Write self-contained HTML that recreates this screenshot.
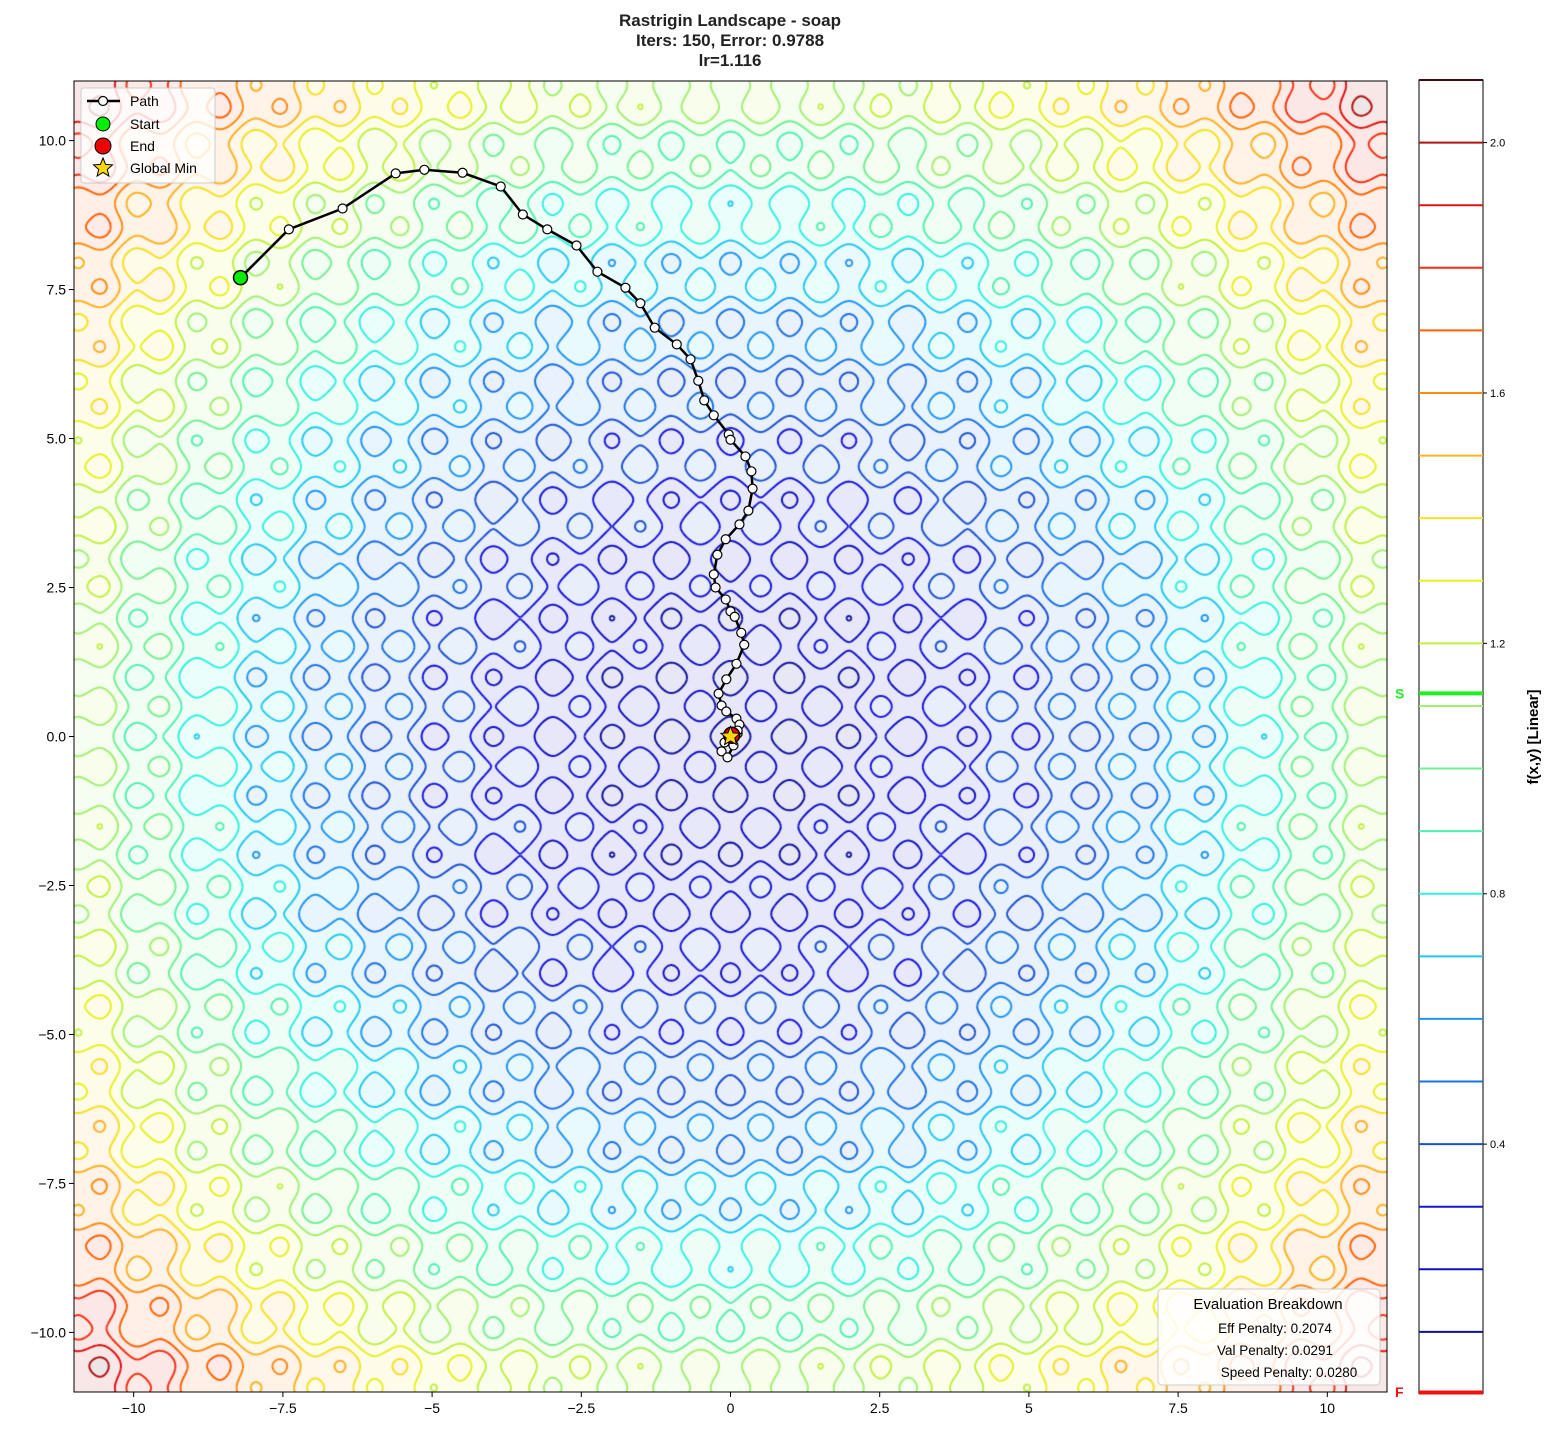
<!DOCTYPE html>
<html><head><meta charset="utf-8">
<style>
body{margin:0;background:#fff;font-family:"Liberation Sans","DejaVu Sans",sans-serif;}
#wrap{position:relative;width:1555px;height:1435px;overflow:hidden;}
canvas{position:absolute;left:74px;top:81px;}
svg{position:absolute;left:0;top:0;}
</style></head>
<body>
<div id="wrap">
<canvas id="cv" width="1313" height="1311"></canvas>
<svg id="sv" width="1555" height="1435"></svg>
</div>
<script>
// ---- data ----
const pathX=[-8.21,-7.40,-6.50,-5.61,-5.13,-4.49,-3.85,-3.48,-3.07,-2.58,-2.23,-1.76,-1.51,-1.27,-0.90,-0.67,-0.54,-0.44,-0.28,-0.03,0.00,0.25,0.35,0.37,0.30,0.15,-0.08,-0.22,-0.28,-0.25,-0.08,0.00,0.07,0.18,0.23,0.10,-0.07,-0.20,-0.15,-0.07,0.10,0.15,0.12,-0.10,-0.15,-0.05,0.05,0.12,0.02];
const pathY=[7.70,8.51,8.86,9.45,9.51,9.46,9.23,8.76,8.51,8.24,7.80,7.53,7.27,6.86,6.58,6.33,5.97,5.64,5.39,5.07,4.98,4.70,4.45,4.16,3.79,3.56,3.31,3.05,2.72,2.50,2.30,2.10,2.01,1.74,1.54,1.22,0.96,0.72,0.52,0.42,0.30,0.20,0.05,-0.10,-0.25,-0.35,-0.15,0.10,0.02];
const levels=[0.1,0.2,0.3,0.4,0.5,0.6,0.7,0.8,0.9,1.0,1.1,1.2,1.3,1.4,1.5,1.6,1.7,1.8,1.9,2.0,2.1];
const levelColors=["#10109a","#1010c0","#1515d8","#1a50d0","#1a70e0","#1e95f0","#20c8f0","#30f0e0","#50f0b0","#70f090","#a0f070","#c0f040","#e8f020","#f8e020","#ffb020","#ff8a10","#ff6000","#f03010","#e01010","#b01010","#401010"];
const xTicks=[-10,-7.5,-5,-2.5,0,2.5,5,7.5,10];
const yTicks=[-10,-7.5,-5,-2.5,0,2.5,5,7.5,10];
const cbTicks=[0.4,0.8,1.2,1.6,2.0];
const startVal=1.12, endVal=0.0;
// ---- scales ----
const X0=74,Y0=81,W=1313,H=1311;
const sx=x=>X0+(x+11)/22*W, sy=y=>Y0+(11-y)/22*H;
function v(x,y){const r2=x*x+y*y,r=Math.sqrt(r2);
const osc=(20-10*Math.cos(2*Math.PI*x)-10*Math.cos(2*Math.PI*y))/40;
return 0.007*r2+0.015*r+0.25*osc;}
function hex(c){return [parseInt(c.substr(1,2),16),parseInt(c.substr(3,2),16),parseInt(c.substr(5,2),16)];}
const cv=document.getElementById('cv'),ctx=cv.getContext('2d');
const img=ctx.createImageData(W,H);const rgb=levelColors.map(hex);
for(let j=0;j<H;j++){const y=11-(j+0.5)/H*22;for(let i=0;i<W;i++){const x=-11+(i+0.5)/W*22;
let k=Math.min(Math.floor(v(x,y)/0.1),20);const c=rgb[k];const a=0.1;const p=(j*W+i)*4;
img.data[p]=255*(1-a)+c[0]*a;img.data[p+1]=255*(1-a)+c[1]*a;img.data[p+2]=255*(1-a)+c[2]*a;img.data[p+3]=255;}}
ctx.putImageData(img,0,0);
const N=900,step=22/N;const G=new Float32Array((N+1)*(N+1));
for(let j=0;j<=N;j++)for(let i=0;i<=N;i++)G[j*(N+1)+i]=v(-11+i*step,11-j*step);
const pxs=W/N,pys=H/N;ctx.lineWidth=2;ctx.lineJoin='round';
levels.forEach((L,li)=>{ctx.beginPath();ctx.strokeStyle=levelColors[li];
for(let j=0;j<N;j++)for(let i=0;i<N;i++){
const a=G[j*(N+1)+i],b=G[j*(N+1)+i+1],c=G[(j+1)*(N+1)+i+1],d=G[(j+1)*(N+1)+i];
const code=(a>L?8:0)|(b>L?4:0)|(c>L?2:0)|(d>L?1:0);if(code===0||code===15)continue;
const x0=i*pxs,y0=j*pys;
const T=[x0+(L-a)/(b-a)*pxs,y0],R=[x0+pxs,y0+(L-b)/(c-b)*pys],B=[x0+(L-d)/(c-d)*pxs,y0+pys],Lf=[x0,y0+(L-a)/(d-a)*pys];
let segs;switch(code){case 1:case 14:segs=[[Lf,B]];break;case 2:case 13:segs=[[B,R]];break;case 3:case 12:segs=[[Lf,R]];break;case 4:case 11:segs=[[T,R]];break;case 6:case 9:segs=[[T,B]];break;case 7:case 8:segs=[[Lf,T]];break;case 5:segs=[[Lf,T],[B,R]];break;case 10:segs=[[T,R],[Lf,B]];break;}
segs.forEach(s=>{ctx.moveTo(s[0][0],s[0][1]);ctx.lineTo(s[1][0],s[1][1]);});}
ctx.stroke();});
// ---- svg ----
const NS="http://www.w3.org/2000/svg",sv=document.getElementById('sv');
function el(t,at,parent){const e=document.createElementNS(NS,t);for(const k in at)e.setAttribute(k,at[k]);(parent||sv).appendChild(e);return e;}
function txt(s,at){const e=el('text',at);e.textContent=s;return e;}
let e=el('rect',{x:X0,y:Y0,width:W,height:H,fill:'none',stroke:'#000','stroke-width':1});


xTicks.forEach(t=>{const x=sx(t);el('line',{x1:x,x2:x,y1:Y0+H,y2:Y0+H+5,stroke:'#000'});
const tt=txt(String(t).replace('-','\u2212'),{x:x,y:Y0+H+21,'text-anchor':'middle','font-size':14,fill:'#000'});

});
yTicks.forEach(t=>{const y=sy(t);el('line',{x1:X0-5,x2:X0,y1:y,y2:y,stroke:'#000'});
const s=(t%1===0?t.toFixed(1):String(t)).replace('-','\u2212');
const tt=txt(s,{x:X0-8,y:y+5,'text-anchor':'end','font-size':14,fill:'#000'});

});
['Rastrigin Landscape - soap','Iters: 150, Error: 0.9788','lr=1.116'].forEach((s,i)=>{const t=txt(s,{x:730,y:26+i*20,'text-anchor':'middle','font-size':17,'font-weight':'bold',fill:'#222'});

});
const pts=pathX.map((x,i)=>sx(x)+','+sy(pathY[i])).join(' ');
e=el('polyline',{points:pts,fill:'none',stroke:'#000','stroke-width':2.5});


pathX.forEach((x,i)=>{const c=el('circle',{cx:sx(x),cy:sy(pathY[i]),r:4.5,fill:'#fff',stroke:'#000','stroke-width':1.2});

});
e=el('circle',{cx:sx(pathX[0]),cy:sy(pathY[0]),r:7,fill:'#00ee00',stroke:'#000','stroke-width':1.5});


e=el('circle',{cx:sx(pathX[pathX.length-1]),cy:sy(pathY[pathY.length-1]),r:8,fill:'#ee0000',stroke:'#000','stroke-width':1.5});


function star(cx,cy,r){let p=[];for(let k=0;k<10;k++){const a=-Math.PI/2+k*Math.PI/5,rr=k%2?r*0.45:r;p.push((cx+rr*Math.cos(a)).toFixed(1)+','+(cy+rr*Math.sin(a)).toFixed(1));}return p.join(' ');}
e=el('polygon',{points:star(sx(0),sy(0),10),fill:'#ffd700',stroke:'#000','stroke-width':1});


const lg=el('g',{});


el('rect',{x:81,y:88,width:134,height:95,rx:3,fill:'#fff','fill-opacity':0.8,stroke:'#ccc'},lg);
el('line',{x1:87,x2:120,y1:101,y2:101,stroke:'#000','stroke-width':2.5},lg);
el('circle',{cx:103,cy:101,r:4.5,fill:'#fff',stroke:'#000','stroke-width':1.2},lg);
el('circle',{cx:103,cy:124,r:7,fill:'#00ee00',stroke:'#000'},lg);
el('circle',{cx:103,cy:146,r:8,fill:'#ee0000',stroke:'#000'},lg);
el('polygon',{points:star(103,168,10),fill:'#ffd700',stroke:'#000'},lg);
[['Path',101],['Start',124],['End',146],['Global Min',168]].forEach(a=>{const t=el('text',{x:130,y:a[1]+5,'font-size':14,fill:'#000'},lg);t.textContent=a[0];

});
const eb=el('g',{});


el('rect',{x:1158,y:1289,width:222,height:96,rx:4,fill:'#fff','fill-opacity':0.85,stroke:'#ccc'},eb);
[['Evaluation Breakdown',1309,15,1268],['Eff Penalty: 0.2074',1333,13.5,1275],['Val Penalty: 0.0291',1355,13.5,1275],['Speed Penalty: 0.0280',1377,13.5,1289]].forEach(a=>{const t=el('text',{x:a[3],y:a[1],'font-size':a[2],'text-anchor':'middle',fill:'#000'},eb);t.textContent=a[0];});
const CX=1419,CW=64,CT=80,CB=1394.5,cy=val=>CB-(val/2.1)*(CB-CT);
const cb=el('g',{});


el('rect',{x:CX,y:CT,width:CW,height:CB-CT-1,fill:'#fff',stroke:'#000'},cb);
levels.forEach((L,i)=>{el('line',{x1:CX,x2:CX+CW,y1:cy(L),y2:cy(L),stroke:levelColors[i],'stroke-width':2},cb);});
el('line',{x1:CX,x2:CX+CW,y1:cy(startVal),y2:cy(startVal),stroke:'#22ee22','stroke-width':4},cb);
el('line',{x1:CX,x2:CX+CW,y1:cy(endVal)-2,y2:cy(endVal)-2,stroke:'#ee1111','stroke-width':4},cb);
cbTicks.forEach(t=>{el('line',{x1:CX+CW,x2:CX+CW+4,y1:cy(t),y2:cy(t),stroke:'#000'},cb);const tt=el('text',{x:CX+CW+7,y:cy(t)+4,'font-size':11,fill:'#000'},cb);tt.textContent=t.toFixed(1);});
let s1=txt('S',{x:1395,y:cy(startVal)+5,'font-size':14,'font-weight':'bold',fill:'#22ee22'});


s1=txt('F',{x:1395,y:1397,'font-size':14,'font-weight':'bold',fill:'#ee1111'});


s1=txt('f(x,y) [Linear]',{x:1538,y:737,'font-size':15,'font-weight':'bold','text-anchor':'middle',transform:'rotate(-90 1538 737)',fill:'#000'});


</script>
</body></html>
